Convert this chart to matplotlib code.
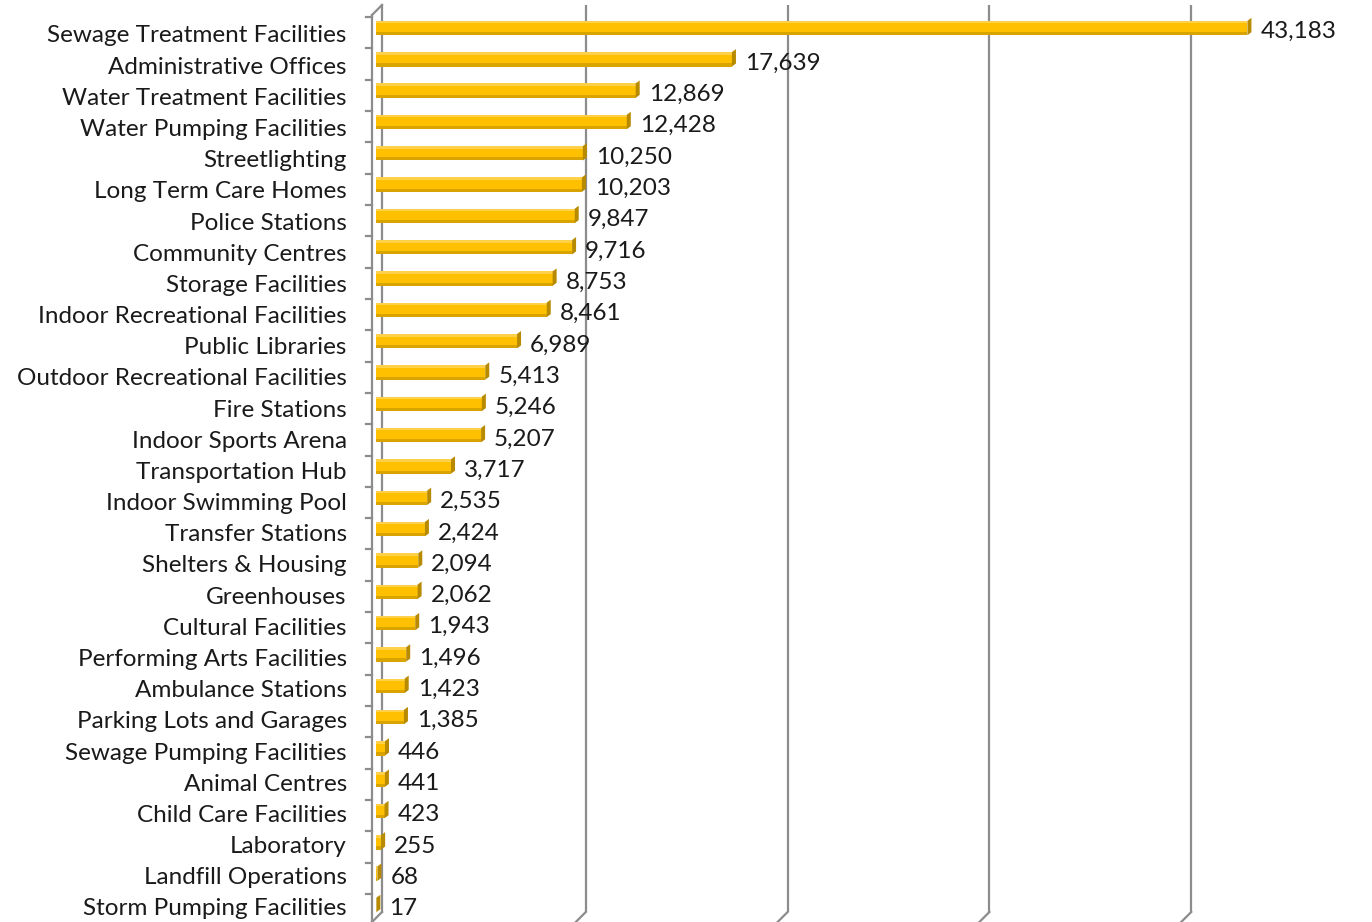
import matplotlib.pyplot as plt
import numpy as np
from matplotlib.patches import Polygon

# data
categories = ['Sewage Treatment Facilities', 'Administrative Offices', 'Water Treatment Facilities',
              'Water Pumping Facilities', 'Streetlighting', 'Long Term Care Homes', 'Police Stations',
              'Community Centres', 'Storage Facilities', 'Indoor Recreational Facilities',
              'Public Libraries', 'Outdoor Recreational Facilities', 'Fire Stations',
              'Indoor Sports Arena', 'Transportation Hub', 'Indoor Swimming Pool', 'Transfer Stations',
              'Shelters & Housing', 'Greenhouses', 'Cultural Facilities', 'Performing Arts Facilities',
              'Ambulance Stations', 'Parking Lots and Garages', 'Sewage Pumping Facilities',
              'Animal Centres', 'Child Care Facilities', 'Laboratory', 'Landfill Operations',
              'Storm Pumping Facilities']
values = [43183, 17639, 12869, 12428, 10250, 10203, 9847, 9716, 8753, 8461, 6989, 5413, 5246,
          5207, 3717, 2535, 2424, 2094, 2062, 1943, 1496, 1423, 1385, 446, 441, 423, 255, 68, 17]
grid_vals = [10000, 20000, 30000, 40000]

plt.rcParams['font.family'] = ['Lato', 'DejaVu Sans']

W, H = 1372, 922
fig = plt.figure(figsize=(W / 100, H / 100), dpi=100)

# pixel mapping used to lay out the fake 3D frame
px_per_val = 0.02018
x0_px = 376          # value 0
ax_left_px = 360
y0_px, step_px = 28, 31.32

def py(p):  # pixel row -> category units
    return (p - y0_px) / step_px

def pxv(p):  # pixel column -> value units
    return (p - x0_px) / px_per_val

ax = fig.add_axes([ax_left_px / W, 0, 1 - ax_left_px / W, 1])
ax.set_xlim(pxv(ax_left_px), pxv(W))
ax.set_ylim(py(H), py(0))
for s in ax.spines.values():
    s.set_visible(False)
ax.set_xticks([])

n = len(categories)
ypos = np.arange(n)
# category labels sit on a slightly tighter pitch than the bars (3D projection)
ax.set_yticks(ypos * 0.9955 + 0.19, categories, fontsize=17.5, color='#1a1a1a')
ax.tick_params(axis='y', length=0, pad=9.5)

grid_c = '#8c8c8c'
depth = pxv(x0_px + 8)   # back wall offset in value units

# back wall gridlines with floor slant
for g in grid_vals:
    xb = g + depth
    ax.plot([xb, xb], [py(5), py(912)], color=grid_c, lw=1.6, zorder=1, solid_capstyle='butt')
    ax.plot([xb, xb - 10 / px_per_val], [py(912), py(922)], color=grid_c, lw=1.6, zorder=1)

# back wall left edge
xl_back = pxv(382)
xl_front = pxv(372)
ax.plot([xl_back, xl_back], [py(5), py(912)], color=grid_c, lw=1.6, zorder=1)
# front axis line and top connector
ax.plot([xl_front, xl_front], [py(15), py(922)], color=grid_c, lw=1.6, zorder=1)
ax.plot([xl_front, xl_back], [py(15), py(5)], color=grid_c, lw=1.6, zorder=1)
ax.plot([xl_back, xl_back - 10 / px_per_val], [py(912), py(922)], color=grid_c, lw=1.6, zorder=1)
# tick marks at category boundaries
for b in np.arange(n + 1) - 0.5:
    ax.plot([pxv(366), xl_front], [b + 0.15, b + 0.15], color=grid_c, lw=1.6, zorder=1)

# bars with a little 3D look
bh = 0.46
cap_w = 4 / px_per_val
cap_h = 3 / step_px
ax.barh(ypos, values, height=bh, color='#FFC000', edgecolor='none', zorder=3)
ax.barh(ypos + bh / 2 - 0.05, values, height=0.1, color='#D9A300', edgecolor='none', zorder=3)
ax.barh(ypos - bh / 2 + 0.04, values, height=0.08, color='#FFD04A', edgecolor='none', zorder=3)
for y, v in zip(ypos, values):
    cap = Polygon([(v, y - bh / 2), (v, y + bh / 2), (v + cap_w, y + bh / 2 - cap_h),
                   (v + cap_w, y - bh / 2 - cap_h)], closed=True, facecolor='#B88A00',
                  edgecolor='none', zorder=3)
    ax.add_patch(cap)
    ax.text(v + cap_w + 9 / px_per_val, y + 0.12, f'{v:,}', va='center', ha='left',
            fontsize=17.5, color='#1a1a1a', zorder=4)

fig.savefig('out.png', dpi=100)
